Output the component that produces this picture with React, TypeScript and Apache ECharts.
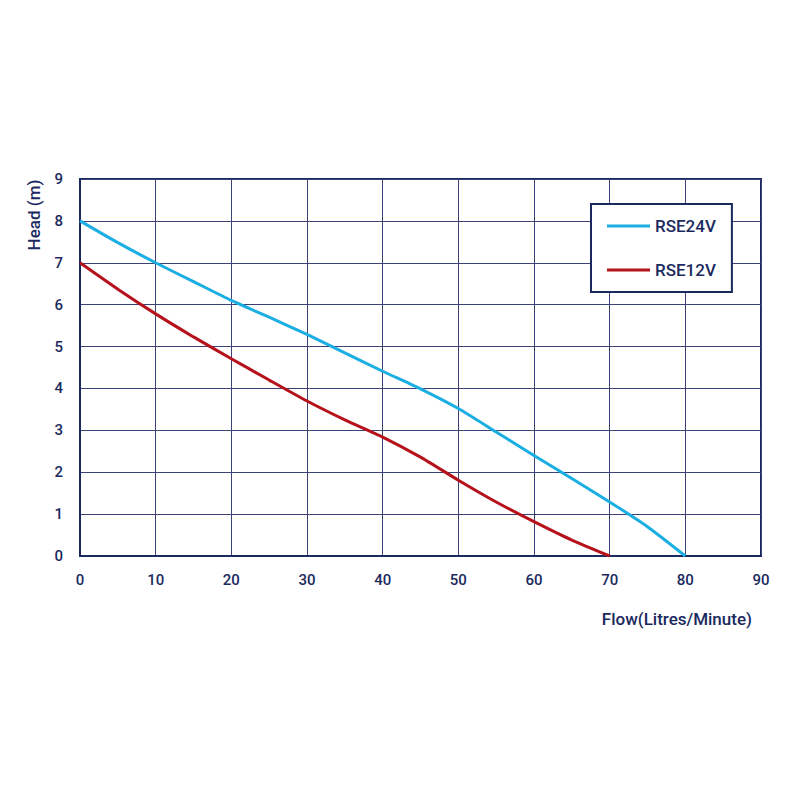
import React, { useEffect, useRef } from "react";
import * as echarts from "echarts";

const flow24 = [0, 5, 10, 15, 20, 25, 30, 35, 40, 45, 50, 55, 60, 65, 70, 75, 80];
const head24 = [8, 7.48, 7.0, 6.55, 6.1, 5.7, 5.29, 4.85, 4.41, 3.99, 3.52, 2.96, 2.4, 1.85, 1.29, 0.7, 0];
const flow12 = [0, 5, 10, 15, 20, 25, 30, 35, 40, 45, 50, 55, 60, 65, 70];
const head12 = [7, 6.37, 5.78, 5.23, 4.71, 4.2, 3.7, 3.25, 2.84, 2.36, 1.81, 1.29, 0.82, 0.38, 0];
const seriesNames = ["RSE24V", "RSE12V"];
const xTitle = "Flow(Litres/Minute)";
const yTitle = "Head (m)";

const NAVY = "#1b2a5e";

export default function App() {
  const ref = useRef<HTMLDivElement>(null);
  useEffect(() => {
    if (!ref.current) return;
    const chart = echarts.init(ref.current, undefined, { renderer: "svg" });
    const font = "Roboto";
    chart.setOption({
      animation: false,
      backgroundColor: "#ffffff",
      grid: {
        left: 80,
        right: 39,
        top: 179,
        bottom: 244,
        show: true,
        borderColor: NAVY,
        borderWidth: 2,
        containLabel: false,
      },
      xAxis: {
        type: "value",
        min: 0,
        max: 90,
        interval: 10,
        axisLine: { show: true, lineStyle: { color: NAVY, width: 2 } },
        axisTick: { show: false },
        axisLabel: { color: NAVY, fontSize: 15, fontWeight: 500, fontFamily: font, margin: 16 },
        splitLine: { show: true, lineStyle: { color: "#3c4178", width: 1 } },
      },
      yAxis: {
        type: "value",
        min: 0,
        max: 9,
        interval: 1,
        axisLine: { show: true, lineStyle: { color: NAVY, width: 2 } },
        axisTick: { show: false },
        axisLabel: { color: NAVY, fontSize: 15, fontWeight: 500, fontFamily: font, margin: 17 },
        splitLine: { show: true, lineStyle: { color: "#3c4178", width: 1 } },
      },
      legend: {
        orient: "vertical",
        left: 591,
        top: 204,
        padding: [13, 16, 13, 16],
        itemGap: 26,
        itemWidth: 43,
        itemHeight: 3,
        icon: "rect",
        borderColor: NAVY,
        borderWidth: 2,
        backgroundColor: "#ffffff",
        textStyle: { color: NAVY, fontSize: 17, fontWeight: 500, fontFamily: font, lineHeight: 18 },
        data: seriesNames,
      },
      graphic: [
        {
          type: "text",
          x: 34,
          y: 215,
          rotation: Math.PI / 2,
          style: {
            text: yTitle,
            fill: NAVY,
            font: `500 17px ${font}`,
            textAlign: "center",
            textVerticalAlign: "middle",
          },
        },
        {
          type: "text",
          x: 752,
          y: 619,
          style: {
            text: xTitle,
            fill: NAVY,
            font: `500 17px ${font}`,
            textAlign: "right",
            textVerticalAlign: "middle",
          },
        },
      ],
      series: [
        {
          name: seriesNames[0],
          type: "line",
          data: flow24.map((x, i) => [x, head24[i]]),
          symbol: "none",
          smooth: 0.2,
          lineStyle: { color: "#1aaee2", width: 3 },
          itemStyle: { color: "#1aaee2" },
          z: 3,
        },
        {
          name: seriesNames[1],
          type: "line",
          data: flow12.map((x, i) => [x, head12[i]]),
          symbol: "none",
          smooth: 0.2,
          lineStyle: { color: "#b5121b", width: 3 },
          itemStyle: { color: "#b5121b" },
          z: 3,
        },
      ],
    });
    return () => chart.dispose();
  }, []);
  return <div ref={ref} style={{ width: 800, height: 800, position: "absolute", left: 0, top: 0 }} />;
}
